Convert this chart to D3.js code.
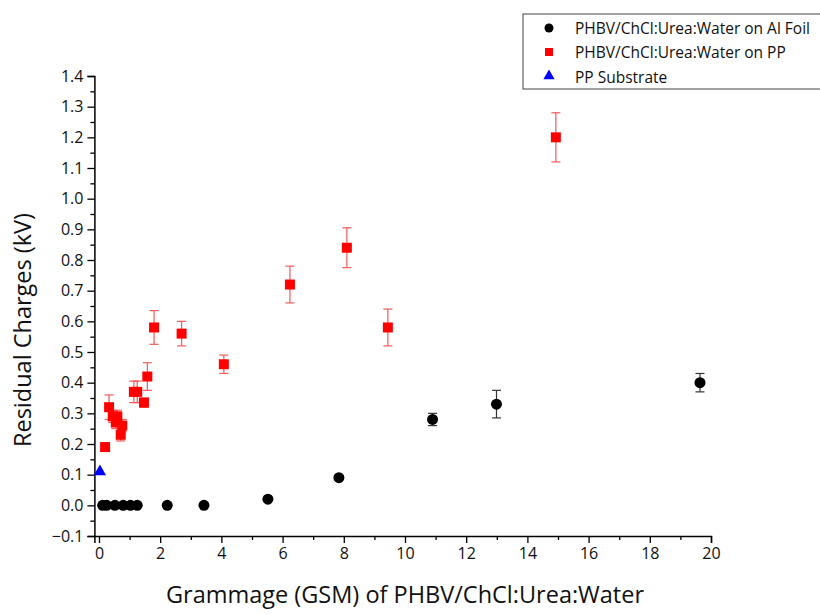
<!DOCTYPE html>
<html>
<head>
<meta charset="utf-8">
<script src="https://cdn.jsdelivr.net/npm/d3@7"></script>
<style>
  body { margin: 0; background: #fff; }
  text { font-family: "Open Sans", sans-serif; }
</style>
</head>
<body>
<svg id="chart" width="820" height="615"></svg>
<script>
// Al foil series
var alX   = [0.12, 0.25, 0.52, 0.79, 1.03, 1.25, 2.23, 3.43, 5.52, 7.84, 10.9, 12.99, 19.64];
var alY   = [0, 0, 0, 0, 0, 0, 0, 0, 0.02, 0.09, 0.28, 0.33, 0.40];
var alErr = [0, 0, 0, 0, 0, 0, 0, 0, 0.005, 0.01, 0.02, 0.045, 0.03];

// PP series
var ppX   = [0.2, 0.33, 0.45, 0.55, 0.6, 0.71, 0.76, 1.14, 1.25, 1.47, 1.58, 1.8, 2.7, 4.08, 6.24, 8.1, 9.44, 14.93];
var ppY   = [0.19, 0.32, 0.29, 0.27, 0.29, 0.23, 0.26, 0.37, 0.37, 0.335, 0.42, 0.58, 0.56, 0.46, 0.72, 0.84, 0.58, 1.2];
var ppErr = [0.01, 0.04, 0.02, 0.02, 0.02, 0.02, 0.02, 0.035, 0.035, 0.015, 0.045, 0.055, 0.04, 0.03, 0.06, 0.065, 0.06, 0.08];

// PP substrate
var subX = [0.03];
var subY = [0.11];
var subErr = [0.01];

var legendNames = ["PHBV/ChCl:Urea:Water on Al Foil", "PHBV/ChCl:Urea:Water on PP", "PP Substrate"];
var xTicks = d3.range(0, 21, 2);
var yTicks = d3.range(-1, 15).map(function(d){ return d / 10; });

var svg = d3.select("#chart");
var plotLeft = 94.4, plotRight = 711, plotTop = 76, plotBottom = 536;

var x = d3.scaleLinear().domain([-0.15, 20]).range([plotLeft, plotRight]);
var y = d3.scaleLinear().domain([-0.1, 1.4]).range([plotBottom, plotTop]);

// axes
var xAxis = d3.axisBottom(x).tickValues(xTicks).tickSize(7).tickPadding(5).tickFormat(d3.format("d"));
var yAxis = d3.axisLeft(y).tickValues(yTicks).tickSize(7).tickPadding(4).tickFormat(d3.format(".1f"));

var gx = svg.append("g").attr("transform", "translate(0," + plotBottom + ")").call(xAxis);
var gy = svg.append("g").attr("transform", "translate(" + plotLeft + ",0)").call(yAxis);

svg.append("g").attr("transform", "translate(0," + plotBottom + ")")
    .call(d3.axisBottom(x).tickValues(d3.range(1, 20, 2)).tickSize(4).tickFormat(""))
    .select(".domain").remove();
svg.append("g").attr("transform", "translate(" + plotLeft + ",0)")
    .call(d3.axisLeft(y).tickValues(d3.range(-1, 14).map(function(d){ return d / 10 + 0.05; })).tickSize(4).tickFormat(""))
    .select(".domain").remove();

svg.selectAll(".domain").attr("stroke", "#000").attr("stroke-width", 1.5);
svg.selectAll(".tick line").attr("stroke", "#000").attr("stroke-width", 1.3);
gx.selectAll("text").attr("font-size", 16).attr("fill", "#111");
gy.selectAll("text").attr("font-size", 16).attr("fill", "#111");

// axis titles
svg.append("text")
    .attr("x", 405)
    .attr("y", 603)
    .attr("text-anchor", "middle")
    .attr("font-size", 23.5)
    .attr("fill", "#111")
    .text("Grammage (GSM) of PHBV/ChCl:Urea:Water");

svg.append("text")
    .attr("transform", "translate(31,330) rotate(-90)")
    .attr("text-anchor", "middle")
    .attr("font-size", 23.5)
    .attr("fill", "#111")
    .text("Residual Charges (kV)");

function toPoints(xs, ys, es){
    return xs.map(function(d, i){ return {x: d, y: ys[i], e: es[i]}; });
}

function errorBars(data, color){
    var g = svg.append("g").attr("stroke", color).attr("stroke-width", 1.2);
    data.filter(function(d){ return d.e > 0.012; }).forEach(function(d){
        var cx = x(d.x);
        g.append("line").attr("x1", cx).attr("x2", cx).attr("y1", y(d.y - d.e)).attr("y2", y(d.y + d.e));
        g.append("line").attr("x1", cx - 4.5).attr("x2", cx + 4.5).attr("y1", y(d.y - d.e)).attr("y2", y(d.y - d.e));
        g.append("line").attr("x1", cx - 4.5).attr("x2", cx + 4.5).attr("y1", y(d.y + d.e)).attr("y2", y(d.y + d.e));
    });
}

var alData = toPoints(alX, alY, alErr);
var ppData = toPoints(ppX, ppY, ppErr);
var subData = toPoints(subX, subY, subErr);

errorBars(alData, "#333");
errorBars(ppData, "#f05a5a");
errorBars(subData, "#3355ff");

svg.append("g").selectAll("circle")
    .data(alData).enter().append("circle")
    .attr("cx", function(d){ return x(d.x); })
    .attr("cy", function(d){ return y(d.y); })
    .attr("r", 5.5)
    .attr("fill", "#000");

svg.append("g").selectAll("rect")
    .data(ppData).enter().append("rect")
    .attr("x", function(d){ return x(d.x) - 5; })
    .attr("y", function(d){ return y(d.y) - 5; })
    .attr("width", 10)
    .attr("height", 10)
    .attr("fill", "#ff0000");

var tri = d3.symbol().type(d3.symbolTriangle).size(65);
svg.append("g").selectAll("path")
    .data(subData).enter().append("path")
    .attr("transform", function(d){ return "translate(" + x(d.x) + "," + y(d.y) + ")"; })
    .attr("d", tri)
    .attr("fill", "#0000ff");

// legend
var lg = svg.append("g");
lg.append("rect")
    .attr("x", 523).attr("y", 14).attr("width", 310).attr("height", 75)
    .attr("fill", "#fff").attr("stroke", "#444").attr("stroke-width", 1);
var rowY = [28, 52, 77];
lg.append("circle").attr("cx", 549).attr("cy", rowY[0]).attr("r", 4.5).attr("fill", "#000");
lg.append("rect").attr("x", 545).attr("y", rowY[1] - 4).attr("width", 8).attr("height", 8).attr("fill", "#ff0000");
lg.append("path").attr("transform", "translate(549," + (rowY[2] - 1) + ")")
    .attr("d", d3.symbol().type(d3.symbolTriangle).size(55)).attr("fill", "#0000ff");
lg.selectAll("text.leg")
    .data(legendNames).enter().append("text")
    .attr("class", "leg")
    .attr("x", 575)
    .attr("y", function(d, i){ return rowY[i] + 5.5; })
    .attr("font-size", 15.5)
    .attr("fill", "#111")
    .text(function(d){ return d; });
</script>
</body>
</html>
